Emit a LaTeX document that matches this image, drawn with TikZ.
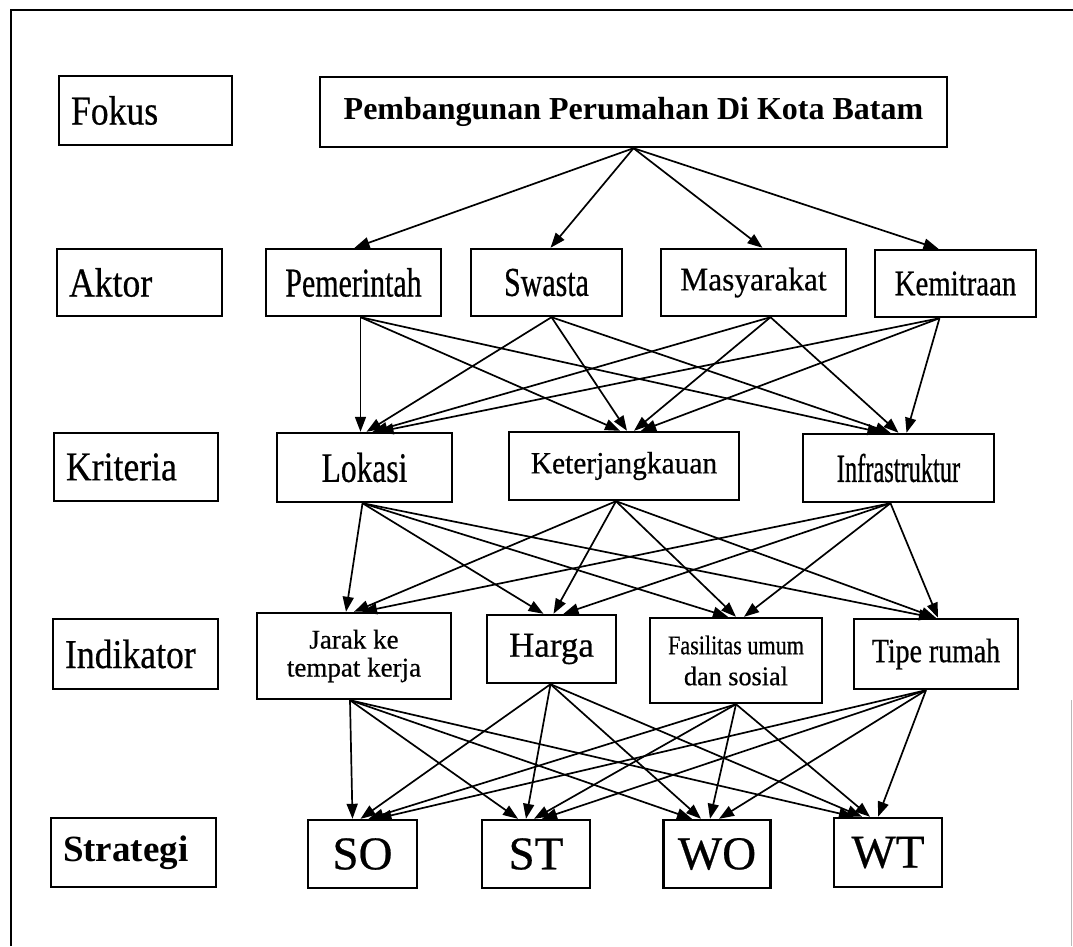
\documentclass[tikz,border=0pt]{standalone}
\usepackage{fontspec}
\setmainfont{Liberation Serif}
\usetikzlibrary{arrows.meta}
\newfontfamily\fReg[FakeBold=0.5]{Liberation Serif}
\newfontfamily\fLab[FakeStretch=0.87,FakeBold=0.5]{Liberation Serif}
\newfontfamily\fPem[FakeStretch=0.73,FakeBold=0.5]{Liberation Serif}
\newfontfamily\fMas[FakeStretch=0.95,FakeBold=0.5]{Liberation Serif}
\newfontfamily\fKem[FakeStretch=0.80,FakeBold=0.5]{Liberation Serif}
\newfontfamily\fLok[FakeStretch=0.75,FakeBold=0.5]{Liberation Serif}
\newfontfamily\fInf[FakeStretch=0.61,FakeBold=0.6]{Liberation Serif}
\newfontfamily\fFas[FakeStretch=0.82,FakeBold=0.5]{Liberation Serif}
\newfontfamily\fDan[FakeStretch=0.97,FakeBold=0.5]{Liberation Serif}
\newfontfamily\fTip[FakeStretch=0.82,FakeBold=0.5]{Liberation Serif}
\tikzset{
  box/.style={draw, line width=2.4pt, inner sep=0pt, align=center},
  lbl/.style={box, inner xsep=12pt, align=left, font=\fLab\fontsize{41}{45}\selectfont},
  arr/.style={line width=1.7pt, -{Triangle[length=15pt,width=11pt]}},
  frame/.style={line width=2.2pt}
}
\begin{document}
\begin{tikzpicture}[x=1pt,y=-1pt]
\useasboundingbox (0,0) rectangle (1073,946);
\draw[frame] (11,946) -- (11,10) -- (1073,10);
\draw[gray!55, line width=1pt] (1071,700) -- (1071,946);

% level labels
\node[lbl, minimum width=173pt, minimum height=69pt, text width=149pt] (fokus) at (145.5,110.5) {Fokus};
\node[lbl, minimum width=165pt, minimum height=67pt, text width=141pt] (aktor) at (139.5,282.5) {Aktor};
\node[lbl, minimum width=164pt, minimum height=68pt, text width=140pt] (krit) at (136,467) {Kriteria};
\node[lbl, minimum width=165pt, minimum height=70pt, text width=141pt] (indi) at (135.5,654) {Indikator};
\node[lbl, minimum width=165pt, minimum height=69pt, text width=141pt, font=\bfseries\fontsize{37}{40}\selectfont] (stra) at (133.5,852.5) {Strategi};

% focus
\node[box, minimum width=627pt, minimum height=70pt, font=\bfseries\fontsize{32}{36}\selectfont] (pemb) at (633.5,112) {Pembangunan Perumahan Di Kota Batam};

% actors
\node[box, minimum width=175pt, minimum height=67pt, font=\fPem\fontsize{41}{45}\selectfont] (pem) at (353.5,282.5) {Pemerintah};
\node[box, minimum width=151pt, minimum height=67pt, font=\fPem\fontsize{41}{45}\selectfont] (swa) at (546.5,282.5) {Swasta};
\node[box, minimum width=185pt, minimum height=67pt, font=\fMas\fontsize{33}{37}\selectfont] (mas) at (753.5,282.5) {Masyarakat};
\node[box, minimum width=161pt, minimum height=67pt, font=\fKem\fontsize{36}{40}\selectfont] (kem) at (955.5,283.5) {Kemitraan};

% criteria
\node[box, minimum width=175pt, minimum height=69pt, font=\fLok\fontsize{42}{46}\selectfont] (lok) at (364.5,467.5) {Lokasi};
\node[box, minimum width=230pt, minimum height=68pt, font=\fMas\fontsize{31}{35}\selectfont] (ket) at (624,466) {Keterjangkauan};
\node[box, minimum width=191pt, minimum height=68pt, font=\fInf\fontsize{40}{44}\selectfont] (inf) at (898.5,468) {Infrastruktur};

% indicators
\node[box, minimum width=194pt, minimum height=86pt, font=\fReg\fontsize{27}{28}\selectfont] (jar) at (354,656) {Jarak ke\\tempat kerja};
\node[box, minimum width=129pt, minimum height=68pt, font=\fReg\fontsize{35}{39}\selectfont] (har) at (551.5,649) {Harga};
\node[box, minimum width=172pt, minimum height=85pt, font=\fontsize{27}{31}\selectfont] (fas) at (736,660.5) {{\fFas Fasilitas umum}\\{\fDan dan sosial}};
\node[box, minimum width=164pt, minimum height=70pt, font=\fTip\fontsize{34}{38}\selectfont] (tip) at (936,654) {Tipe rumah};

% strategies
\node[box, minimum width=109pt, minimum height=68pt, font=\fReg\fontsize{47}{50}\selectfont] (so) at (362.5,854) {SO};
\node[box, minimum width=108pt, minimum height=68pt, font=\fReg\fontsize{47}{50}\selectfont] (st) at (536,854) {ST};
\node[box, minimum width=107pt, minimum height=68pt, font=\fReg\fontsize{47}{50}\selectfont] (wo) at (717,854) {WO};
\node[box, minimum width=108pt, minimum height=69pt, font=\fReg\fontsize{47}{50}\selectfont] (wt) at (888,852.5) {WT};

% focus -> actors
\foreach \t/\o in {pem/1,swa/4,mas/9,kem/-17}
  \draw[arr] (pemb.south) -- ([xshift=\o pt]\t.north);

% actors -> criteria
\foreach \s/\so/\i in {pem/7/0,swa/5/1,mas/17/2,kem/-16/3}{
  \foreach \t/\b/\st in {lok/-4/6,ket/-4/7,inf/-16/8}{
    \pgfmathsetmacro\tx{\b+\st*\i}
    \draw[arr] ([xshift=\so pt]\s.south) -- ([xshift=\tx pt]\t.north);
  }
}

% criteria -> indicators
\foreach \s/\so/\i in {lok/-2/0,ket/-8/1,inf/-8/2}{
  \foreach \t/\b/\st in {jar/-8/8,har/-8/10,fas/-8/8,tip/-2/2}{
    \pgfmathsetmacro\tx{\b+\st*\i}
    \draw[arr] ([xshift=\so pt]\s.south) -- ([xshift=\tx pt]\t.north);
  }
}

% indicators -> strategies
\foreach \s/\so/\i in {jar/-4/0,har/-1/1,fas/0/2,tip/-10/3}{
  \foreach \t/\b/\st in {so/-10/8,st/-18/8,wo/-25/9,wt/-34/8}{
    \pgfmathsetmacro\tx{\b+\st*\i}
    \draw[arr] ([xshift=\so pt]\s.south) -- ([xshift=\tx pt]\t.north);
  }
}
\end{tikzpicture}
\end{document}
